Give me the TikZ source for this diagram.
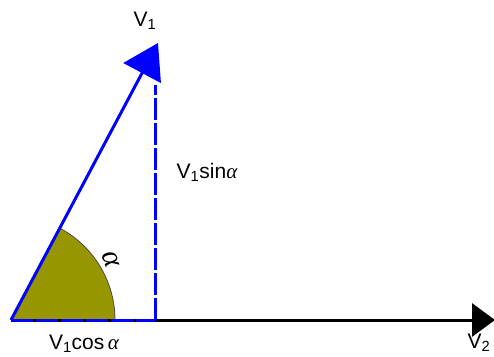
\documentclass[tikz,border=0pt]{standalone}
\usepackage{fontspec}
\setmainfont{Liberation Sans}
\newfontfamily\alphafont{Liberation Serif}
\newcommand{\alphaglyph}{{\alphafont\itshape α}}
\usepackage{tikz}
\usetikzlibrary{arrows.meta, calc}
\definecolor{sectorolive}{RGB}{152,150,0}
\tikzset{
  vecline/.style={
    draw=blue, line width=3pt, -{Triangle[length=34pt, width=42pt]}
  },
  axisline/.style={
    draw=black, line width=3pt, -{Triangle[length=23pt, width=33pt]}
  },
  projline/.style={
    draw=blue, line width=3pt, dash pattern=on 22pt off 3pt
  },
  veclabel/.style={
    font=\fontsize{21}{24}\selectfont, inner sep=0pt
  },
  anglelabel/.style={
    font=\fontsize{30}{32}\selectfont, inner sep=0pt
  },
}
\begin{document}
\begin{tikzpicture}[x=1pt, y=1pt]
  \useasboundingbox (0,0) rectangle (494,356);

  % === Points ===
  \coordinate (O) at (11, 36);
  \coordinate (B) at (155, 36);
  \coordinate (P) at (155, 271);
  \coordinate (T) at (158, 313);
  \coordinate (E) at (495, 36);

  % Angle sector
  \fill[sectorolive] (O) -- ++(0:104) arc (0:62:104) -- cycle;
  \draw[black!70, line width=0.8pt] ($(O)+(0:104)$) arc (0:62:104);

  % Horizontal axis and projections
  \draw[axisline] (O) -- (E);
  \draw[projline] (O) -- (B);
  \draw[projline] (B) -- (P);

  % Vector V1
  \draw[vecline] (O) -- (T);

  % === Labels ===
  \node[veclabel] (v1) at (145, 335) {V\textsubscript{1}};
  \node[veclabel] (v1sin) at (207, 184) {V\textsubscript{1}sin\alphaglyph};
  \node[veclabel] (v1cos) at (84, 12) {V\textsubscript{1}cos\,\alphaglyph};
  \node[veclabel] (v2) at (479, 13) {V\textsubscript{2}};
  \node[anglelabel, rotate=-70] (alpha) at (111, 96) {\alphaglyph};

\end{tikzpicture}
\end{document}
